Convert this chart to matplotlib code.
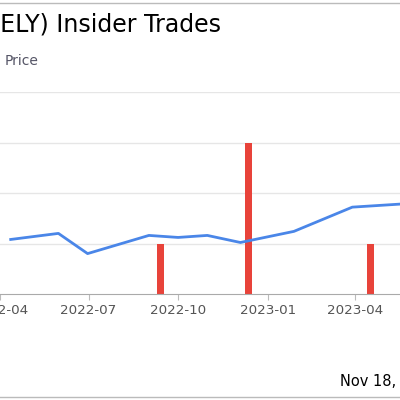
import matplotlib.pyplot as plt
import numpy as np
from datetime import datetime

# Price line (arbitrary units, one gridline = 1)
price_dates = ["2022-04-12", "2022-05-31", "2022-06-30", "2022-09-01", "2022-10-01",
               "2022-10-31", "2022-12-04", "2023-01-28", "2023-03-29", "2023-05-17"]
price_vals = [1.08, 1.2, 0.8, 1.16, 1.12, 1.16, 1.02, 1.24, 1.72, 1.78]

# Insider trades
trade_dates = ["2022-09-13", "2022-12-12", "2023-04-17"]
trade_vals = [1, 3, 1]

tick_dates = ["2022-04-01", "2022-07-01", "2022-10-01", "2023-01-01", "2023-04-01"]
tick_labels = ["2022-04", "2022-07", "2022-10", "2023-01", "2023-04"]

to_dt = lambda l: [datetime.strptime(d, "%Y-%m-%d") for d in l]

fig = plt.figure(figsize=(4, 4), dpi=100)
ax = fig.add_axes([0, 1 - 294 / 400, 1, (294 - 92) / 400])

ax.bar(to_dt(trade_dates), trade_vals, width=7, color="#e8433a", zorder=2)
ax.plot(to_dt(price_dates), price_vals, color="#4a86e8", lw=2, zorder=3)

ax.set_xlim(datetime(2022, 4, 12), datetime(2023, 5, 17))
ax.set_ylim(0, 4)
ax.set_yticks([1, 2, 3, 4])
ax.yaxis.grid(True, color="#e6e6e6", lw=1)
ax.tick_params(axis="y", left=False, labelleft=False)
ax.set_xticks(to_dt(tick_dates))
ax.set_xticklabels(tick_labels, color="#555555", fontsize=9.7)
ax.tick_params(axis="x", length=4, color="#bbbbbb")
for s in ["top", "left", "right"]:
    ax.spines[s].set_visible(False)
ax.spines["bottom"].set_color("#aaaaaa")

fig.text(-0.022, 0.938, "(ELY) Insider Trades", fontsize=17, ha="left", va="center")
fig.text(0.012, 0.847, "Price", fontsize=10, color="#555566", ha="left", va="center")
fig.text(0.85, 0.045, "Nov 18, 2023", fontsize=10.5, ha="left", va="center")
fig.add_artist(plt.Line2D([0, 1], [0.992, 0.992], color="#bbbbbb", lw=1))
fig.add_artist(plt.Line2D([0, 1], [0.008, 0.008], color="#bbbbbb", lw=1))

fig.savefig("out.png")
